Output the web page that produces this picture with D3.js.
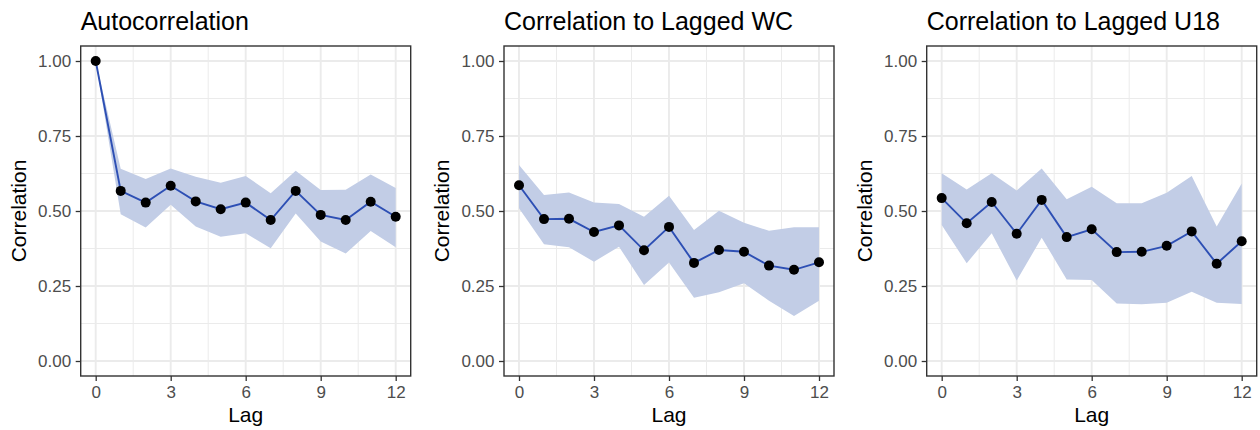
<!DOCTYPE html>
<html>
<head>
<meta charset="utf-8">
<script src="https://cdn.jsdelivr.net/npm/d3@7"></script>
<style>
  html, body { margin: 0; padding: 0; background: #fff; }
  svg { display: block; font-family: "Liberation Sans", Arial, sans-serif; }
</style>
</head>
<body>
<svg id="chart" width="1260" height="430"></svg>
<script>
// ---- data ----
const lags = [0, 1, 2, 3, 4, 5, 6, 7, 8, 9, 10, 11, 12];
const panelTitles = ["Autocorrelation", "Correlation to Lagged WC", "Correlation to Lagged U18"];

const autoCorr  = [1.00, 0.567, 0.528, 0.584, 0.532, 0.506, 0.528, 0.470, 0.567, 0.487, 0.470, 0.531, 0.481];
const autoUpper = [1.00, 0.641, 0.607, 0.642, 0.614, 0.594, 0.617, 0.559, 0.634, 0.570, 0.571, 0.622, 0.577];
const autoLower = [1.00, 0.489, 0.445, 0.521, 0.448, 0.414, 0.426, 0.376, 0.492, 0.398, 0.358, 0.433, 0.379];

const wcCorr  = [0.586, 0.473, 0.474, 0.430, 0.452, 0.369, 0.447, 0.327, 0.370, 0.364, 0.318, 0.304, 0.329];
const wcUpper = [0.653, 0.553, 0.562, 0.528, 0.523, 0.481, 0.551, 0.437, 0.501, 0.461, 0.434, 0.446, 0.446];
const wcLower = [0.509, 0.389, 0.379, 0.331, 0.381, 0.253, 0.328, 0.211, 0.229, 0.259, 0.201, 0.150, 0.201];

const u18Corr  = [0.543, 0.459, 0.530, 0.424, 0.537, 0.413, 0.439, 0.363, 0.364, 0.384, 0.432, 0.324, 0.399];
const u18Upper = [0.626, 0.572, 0.626, 0.568, 0.642, 0.539, 0.581, 0.526, 0.526, 0.561, 0.617, 0.448, 0.592];
const u18Lower = [0.453, 0.326, 0.426, 0.268, 0.411, 0.272, 0.270, 0.192, 0.189, 0.194, 0.231, 0.194, 0.190];

const yTicks = [0, 0.25, 0.5, 0.75, 1.0];
const yTickLabels = ["0.00", "0.25", "0.50", "0.75", "1.00"];
const yMinor = [0.125, 0.375, 0.625, 0.875];
const xTicks = [0, 3, 6, 9, 12];
const xMinor = [1.5, 4.5, 7.5, 10.5];
const xTitle = "Lag";
const yTitle = "Correlation";

const series = [
  { corr: autoCorr, upper: autoUpper, lower: autoLower },
  { corr: wcCorr,   upper: wcUpper,   lower: wcLower },
  { corr: u18Corr,  upper: u18Upper,  lower: u18Lower }
];

// ---- layout ----
const svg = d3.select("#chart");
const panelLefts = [80.7, 504, 926.7];
const panelW = 330;
const panelTop = 46, panelH = 330;

const gridCol = "#EBEBEB";
const lineCol = "#2D4FB4";
const ribbonCol = "#C2CDE6";
const borderCol = "#333333";
const textCol = "#4D4D4D";

series.forEach((s, i) => {
  const x0 = panelLefts[i];
  const x = d3.scaleLinear().domain([-0.6, 12.6]).range([x0, x0 + panelW]);
  const y = d3.scaleLinear().domain([-0.05, 1.05]).range([panelTop + panelH, panelTop]);
  const g = svg.append("g");

  // minor grid
  g.selectAll(".ymin").data(yMinor).join("line")
    .attr("x1", x0).attr("x2", x0 + panelW)
    .attr("y1", d => y(d)).attr("y2", d => y(d))
    .attr("stroke", gridCol).attr("stroke-width", 1);
  g.selectAll(".xmin").data(xMinor).join("line")
    .attr("y1", panelTop).attr("y2", panelTop + panelH)
    .attr("x1", d => x(d)).attr("x2", d => x(d))
    .attr("stroke", gridCol).attr("stroke-width", 1);
  // major grid
  g.selectAll(".ymaj").data(yTicks).join("line")
    .attr("x1", x0).attr("x2", x0 + panelW)
    .attr("y1", d => y(d)).attr("y2", d => y(d))
    .attr("stroke", gridCol).attr("stroke-width", 1.9);
  g.selectAll(".xmaj").data(xTicks).join("line")
    .attr("y1", panelTop).attr("y2", panelTop + panelH)
    .attr("x1", d => x(d)).attr("x2", d => x(d))
    .attr("stroke", gridCol).attr("stroke-width", 1.9);

  const idx = d3.range(lags.length);
  // ribbon
  const area = d3.area()
    .x(d => x(lags[d]))
    .y0(d => y(s.lower[d]))
    .y1(d => y(s.upper[d]));
  g.append("path").datum(idx).attr("d", area)
    .attr("fill", ribbonCol).attr("stroke", "none");

  // line
  const line = d3.line().x(d => x(lags[d])).y(d => y(s.corr[d]));
  g.append("path").datum(idx).attr("d", line)
    .attr("fill", "none").attr("stroke", lineCol).attr("stroke-width", 1.9);

  // points
  g.selectAll(".pt").data(idx).join("circle")
    .attr("cx", d => x(lags[d])).attr("cy", d => y(s.corr[d]))
    .attr("r", 5).attr("fill", "#000");

  // border
  g.append("rect").attr("x", x0).attr("y", panelTop)
    .attr("width", panelW).attr("height", panelH)
    .attr("fill", "none").attr("stroke", borderCol).attr("stroke-width", 1.4);

  // axes
  const yAxis = d3.axisLeft(y).tickValues(yTicks)
    .tickFormat((d, j) => yTickLabels[j]).tickSize(5).tickPadding(4.5);
  const ya = g.append("g").attr("transform", `translate(${x0},0)`).call(yAxis);
  ya.select(".domain").remove();
  ya.selectAll(".tick line").attr("stroke", borderCol).attr("stroke-width", 1.3);
  ya.selectAll(".tick text").attr("fill", textCol)
    .style("font-size", "17px").style("font-family", "Liberation Sans, Arial, sans-serif");

  const xAxis = d3.axisBottom(x).tickValues(xTicks).tickFormat(d3.format("d"))
    .tickSize(5).tickPadding(5);
  const xa = g.append("g").attr("transform", `translate(0,${panelTop + panelH})`).call(xAxis);
  xa.select(".domain").remove();
  xa.selectAll(".tick line").attr("stroke", borderCol).attr("stroke-width", 1.3);
  xa.selectAll(".tick text").attr("fill", textCol)
    .style("font-size", "17px").style("font-family", "Liberation Sans, Arial, sans-serif");

  // titles
  g.append("text").attr("x", x0).attr("y", 29.5)
    .attr("fill", "#000").style("font-size", "25px").text(panelTitles[i]);
  g.append("text").attr("x", x0 + panelW / 2).attr("y", 421.5)
    .attr("text-anchor", "middle").attr("fill", "#000")
    .style("font-size", "21px").text(xTitle);
  g.append("text")
    .attr("transform", `translate(${x0 - 55},${panelTop + panelH / 2}) rotate(-90)`)
    .attr("text-anchor", "middle").attr("fill", "#000")
    .style("font-size", "21px").text(yTitle);
});
</script>
</body>
</html>
